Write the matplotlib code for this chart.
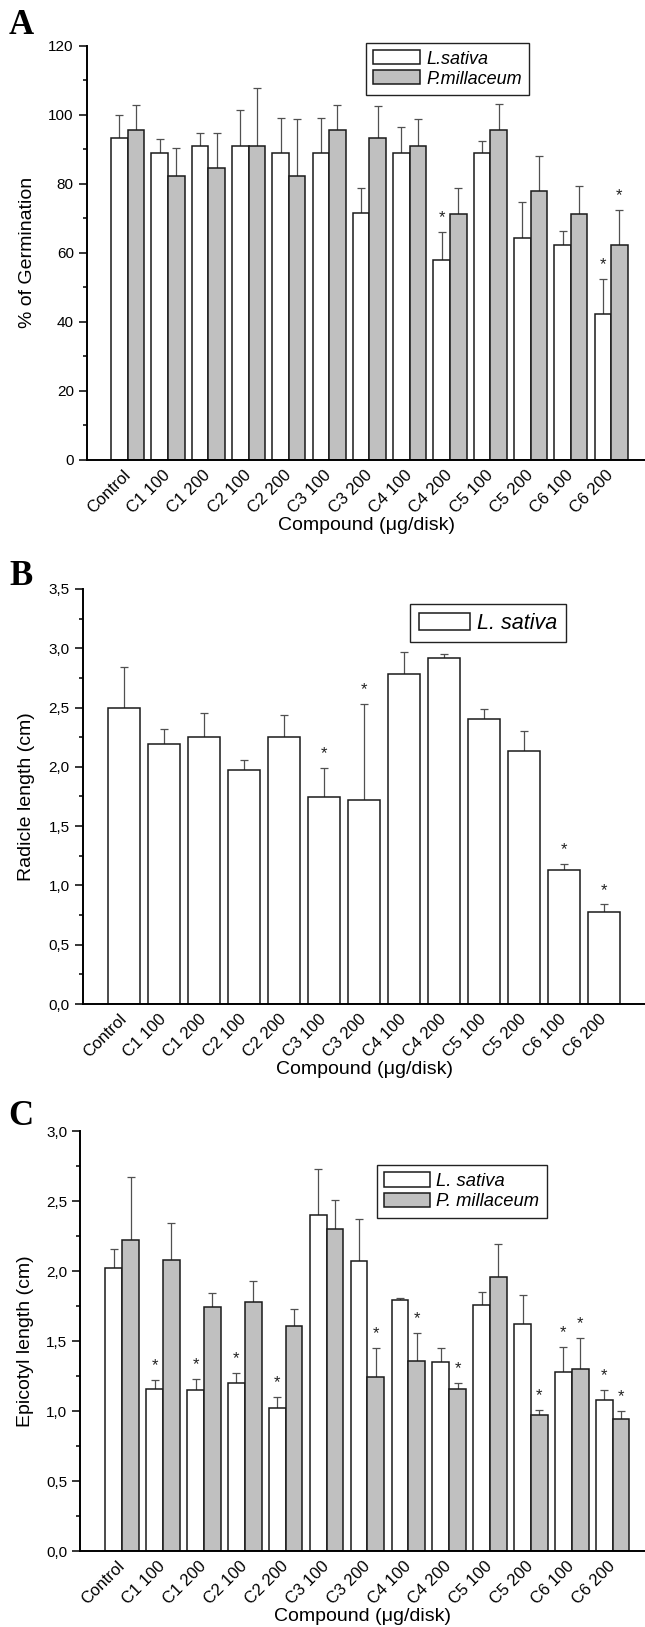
import numpy as np
import matplotlib.pyplot as plt
from matplotlib.ticker import MultipleLocator, FuncFormatter

plt.rcParams['font.family'] = ['Liberation Sans', 'DejaVu Sans']

# Категории (соединение, мкг/диск)
labels = ['Control', 'C1 100', 'C1 200', 'C2 100', 'C2 200', 'C3 100', 'C3 200',
          'C4 100', 'C4 200', 'C5 100', 'C5 200', 'C6 100', 'C6 200']

# A - % прорастания
germ_ls = [93.4, 88.9, 91.1, 91.1, 88.9, 88.9, 71.5, 88.9, 57.9, 88.9, 64.4, 62.3, 42.4]
germ_ls_err = [6.6, 4.1, 3.6, 10.3, 10.2, 10.2, 7.3, 7.6, 8.1, 3.6, 10.4, 4.1, 10.1]
germ_pm = [95.5, 82.4, 84.5, 91.1, 82.4, 95.5, 93.4, 91.1, 71.2, 95.5, 77.9, 71.2, 62.3]
germ_pm_err = [7.5, 8.0, 10.2, 16.6, 16.5, 7.5, 9.1, 7.6, 7.5, 7.7, 10.1, 8.1, 10.1]
germ_ls_star = [8, 12]
germ_pm_star = [12]

# B - длина корешка
rad_ls = [2.50, 2.19, 2.25, 1.97, 2.25, 1.745, 1.72, 2.78, 2.92, 2.40, 2.13, 1.13, 0.78]
rad_ls_err = [0.34, 0.13, 0.20, 0.09, 0.19, 0.245, 0.81, 0.19, 0.03, 0.09, 0.17, 0.05, 0.06]
rad_ls_star = [5, 6, 11, 12]

# C - длина эпикотиля
epi_ls = [2.02, 1.16, 1.15, 1.20, 1.02, 2.40, 2.07, 1.79, 1.35, 1.76, 1.62, 1.28, 1.08]
epi_ls_err = [0.14, 0.06, 0.08, 0.07, 0.08, 0.33, 0.30, 0.02, 0.10, 0.09, 0.21, 0.18, 0.07]
epi_pm = [2.22, 2.08, 1.74, 1.78, 1.61, 2.30, 1.24, 1.36, 1.16, 1.96, 0.97, 1.30, 0.94]
epi_pm_err = [0.45, 0.26, 0.10, 0.15, 0.12, 0.21, 0.21, 0.20, 0.04, 0.23, 0.04, 0.22, 0.06]
epi_ls_star = [1, 2, 3, 4, 11, 12]
epi_pm_star = [6, 7, 8, 10, 11, 12]

x = np.arange(len(labels))
edge = '#1a1a1a'
grey = '#c0c0c0'
ecol = '#505050'


def comma(v, pos):
    return f'{v:.1f}'.replace('.', ',')


def bars(ax, pos, vals, errs, width, color, stars):
    b = ax.bar(pos, vals, width, color=color, edgecolor=edge, linewidth=1.1, zorder=2)
    zeros = np.zeros(len(vals))
    eb = ax.errorbar(pos, vals, yerr=[zeros, errs], fmt='none', ecolor=ecol,
                     elinewidth=0.9, capsize=3, capthick=0.9, zorder=1)
    eb[1][0].set_visible(False)  # нижние шляпки не нужны
    for i in stars:
        ax.annotate('*', (pos[i], vals[i] + errs[i]), xytext=(0, 7), textcoords='offset points',
                    ha='center', va='baseline', fontsize=12, color='#222222')
    return b


def style(ax, xlim, major, minor, fmt=None):
    ax.set_xlim(*xlim)
    ax.spines['top'].set_visible(False)
    ax.spines['right'].set_visible(False)
    ax.spines['left'].set_linewidth(1.4)
    ax.spines['bottom'].set_linewidth(1.4)
    ax.yaxis.set_major_locator(MultipleLocator(major))
    ax.yaxis.set_minor_locator(MultipleLocator(minor))
    if fmt:
        ax.yaxis.set_major_formatter(FuncFormatter(fmt))
    ax.tick_params(axis='y', which='major', direction='out', length=5.5, width=1.1, pad=4, labelsize=11)
    ax.tick_params(axis='y', which='minor', direction='out', length=3, width=1.1)
    ax.set_xticks(x)
    ax.set_xticklabels(labels, rotation=45, ha='right', va='center', rotation_mode='anchor', fontsize=12)
    ax.tick_params(axis='x', length=0, pad=9)


leg_kw = dict(loc='upper left', borderaxespad=0, fancybox=False, edgecolor='#222222', framealpha=1)

fig = plt.figure(figsize=(6.45, 16.27), dpi=100)

# ---- A ----
axA = fig.add_axes([0.1349, 0.7173, 0.8651, 0.2545])
w = 0.41
b1 = bars(axA, x - w / 2, germ_ls, germ_ls_err, w, 'white', germ_ls_star)
b2 = bars(axA, x + w / 2, germ_pm, germ_pm_err, w, grey, germ_pm_star)
axA.set_ylim(0, 120)
style(axA, (-1.01, 12.84), 20, 10)
axA.set_ylabel('% of Germination', fontsize=14)
axA.yaxis.set_label_coords(-0.092, 0.5)
axA.set_xlabel('Compound (μg/disk)', fontsize=14)
axA.xaxis.set_label_coords(0.5, -0.138)
axA.legend([b1, b2], ['L.sativa', 'P.millaceum'], bbox_to_anchor=(0.5, 1.007),
           prop={'style': 'italic', 'size': 13}, handlelength=2.6, handleheight=0.83,
           handletextpad=0.35, labelspacing=0.15, **leg_kw)

# ---- B ----
axB = fig.add_axes([0.1287, 0.3829, 0.8713, 0.2551])
b3 = bars(axB, x, rad_ls, rad_ls_err, 0.81, 'white', rad_ls_star)
axB.set_ylim(0, 3.5)
style(axB, (-1.025, 13.025), 0.5, 0.25, comma)
axB.set_ylabel('Radicle length (cm)', fontsize=14)
axB.yaxis.set_label_coords(-0.085, 0.5)
axB.set_xlabel('Compound (μg/disk)', fontsize=14)
axB.xaxis.set_label_coords(0.5, -0.137)
axB.legend([b3], ['L. sativa'], bbox_to_anchor=(0.582, 0.964),
           prop={'style': 'italic', 'size': 15.5}, handlelength=2.4, handleheight=0.88,
           handletextpad=0.3, **leg_kw)

# ---- C ----
axC = fig.add_axes([0.1248, 0.0467, 0.8752, 0.2581])
b4 = bars(axC, x - w / 2, epi_ls, epi_ls_err, w, 'white', epi_ls_star)
b5 = bars(axC, x + w / 2, epi_pm, epi_pm_err, w, grey, epi_pm_star)
axC.set_ylim(0, 3.0)
style(axC, (-1.02, 12.79), 0.5, 0.25, comma)
axC.set_ylabel('Epicotyl length (cm)', fontsize=14)
axC.yaxis.set_label_coords(-0.083, 0.5)
axC.set_xlabel('Compound (μg/disk)', fontsize=14)
axC.xaxis.set_label_coords(0.5, -0.136)
axC.legend([b4, b5], ['L. sativa', 'P. millaceum'], bbox_to_anchor=(0.525, 0.919),
           prop={'style': 'italic', 'size': 13.2}, handlelength=2.5, handleheight=0.83,
           handletextpad=0.35, labelspacing=0.15, **leg_kw)

# буквы панелей
for letter, yy in [('A', 0.9846), ('B', 0.6454), ('C', 0.3135)]:
    fig.text(0.0326, yy, letter, ha='center', va='center', fontsize=25, fontweight='bold',
             family='Liberation Serif')

plt.savefig('out.png', dpi=100)
